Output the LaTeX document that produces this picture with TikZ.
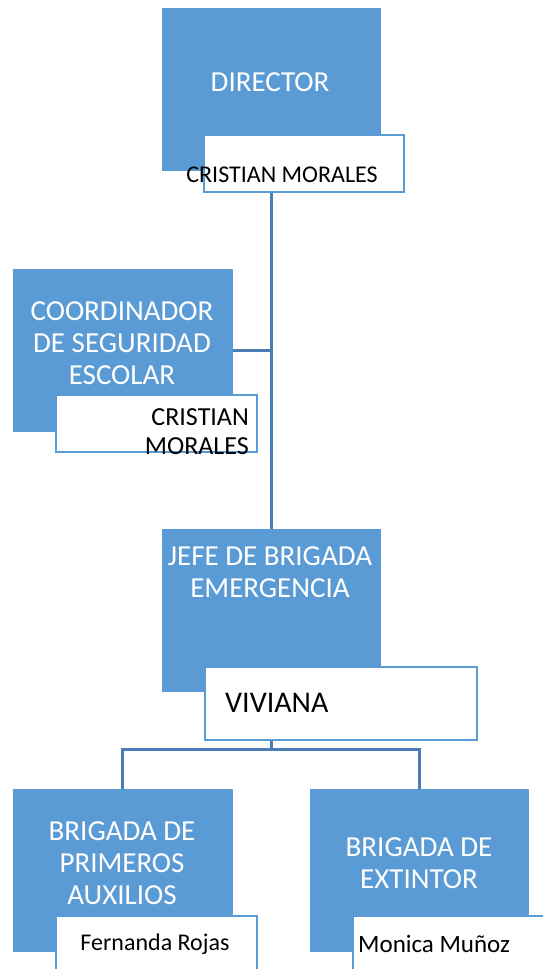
\documentclass[tikz,border=0pt]{standalone}
\usepackage{fontspec}
\setmainfont{Carlito}
\usepackage{tikz}
\usetikzlibrary{backgrounds}

\definecolor{boxblue}{HTML}{5B9BD5}
\definecolor{lineblue}{HTML}{4A7DB5}

\begin{document}
\begin{tikzpicture}[x=1pt,y=-1pt,
    rolebox/.style={fill=boxblue,draw=boxblue,line width=0.5pt,minimum width=218pt,minimum height=162pt,inner sep=0pt},
    namebox/.style={fill=white,draw=boxblue,line width=1.6pt,minimum width=200pt,minimum height=57pt,inner sep=0pt},
    roletext/.style={text=white,align=center,inner sep=0pt,font=\fontsize{29pt}{32pt}\selectfont},
    nametext/.style={text=black,inner sep=0pt,font=\fontsize{24pt}{29pt}\selectfont},
    link/.style={draw=lineblue,line width=3pt}]
    \useasboundingbox (0,0) rectangle (543,969);
    \clip (0,0) rectangle (543,969);

    % Director
    \node[rolebox] (dir) at (271,89) {};
    \node[namebox] (dirname) at (304,163.5) {};
    \node[roletext] (dirtext) at (270,82) {DIRECTOR};
    \node[nametext] (dirnametext) at (282,175) {CRISTIAN MORALES};

    % Coordinador
    \node[rolebox,minimum width=219pt] (coord) at (122.5,350) {};
    \node[namebox,minimum width=201pt] (coordname) at (156.5,423.5) {};
    \node[roletext] (coordtext) at (122,343) {COORDINADOR\\DE SEGURIDAD\\ESCOLAR};
    \node[nametext,anchor=east,align=right,font=\fontsize{26pt}{29pt}\selectfont] (coordnametext) at (249,432) {CRISTIAN\\MORALES};

    % Jefe de brigada
    \node[rolebox] (jefe) at (271,610) {};
    \node[namebox,minimum width=272pt,minimum height=73pt] (jefename) at (341,703.5) {};
    \node[roletext] (jefetext) at (270,572) {JEFE DE BRIGADA\\EMERGENCIA};
    \node[nametext,anchor=west,font=\fontsize{30pt}{34pt}\selectfont] (jefenametext) at (225,703) {VIVIANA};

    % Brigadas
    \node[rolebox,minimum width=219pt] (pa) at (122.5,870) {};
    \node[namebox,minimum width=201pt] (paname) at (156.5,944.5) {};
    \node[roletext] (patext) at (122,863) {BRIGADA DE\\PRIMEROS\\AUXILIOS};
    \node[nametext] (panametext) at (155,944) {Fernanda Rojas};

    \node[rolebox] (ext) at (419,870) {};
    \node[namebox] (extname) at (453,944.5) {};
    \node[roletext] (exttext) at (419,863) {BRIGADA DE\\EXTINTOR};
    \node[nametext,anchor=west,font=\fontsize{25pt}{29pt}\selectfont] (extnametext) at (358,944) {Monica Muñoz};

    % Draw links
    \begin{scope}[on background layer]
        \coordinate (split) at (271,749);
        \draw[link] (dir.south) -- (jefe.north);
        \draw[link] (coord.east) -- (coord.east -| dir.south);
        \draw[link] (jefe.south) -- (split) -| (pa.north);
        \draw[link] (split) -| (ext.north);
    \end{scope}
\end{tikzpicture}
\end{document}
